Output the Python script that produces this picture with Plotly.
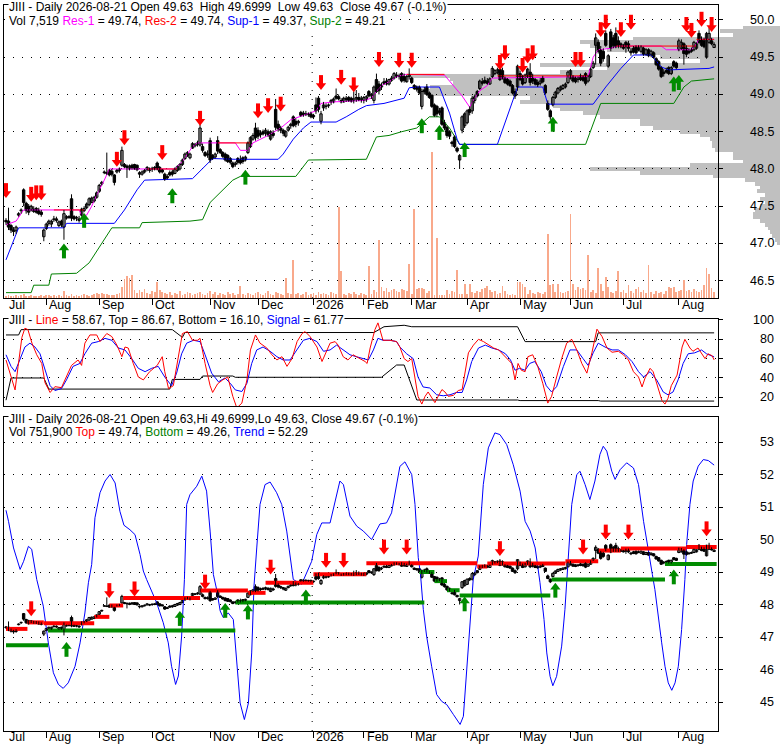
import pandas as pd
import plotly.graph_objects as go

W, H = 780, 745

# ---------------- data ----------------
holidays = ["2025-09-01", "2025-11-27", "2025-12-25", "2026-01-01", "2026-01-19",
            "2026-02-16", "2026-04-03", "2026-05-25", "2026-06-19", "2026-07-03"]
dates = pd.bdate_range("2025-07-10", "2026-08-21", freq="C", holidays=holidays)

opens = [
    47.31, 47.30, 47.24, 47.18, 47.17, 47.38, 47.44, 47.72, 47.54, 47.50,
    47.45, 47.46, 47.47, 47.44, 47.42, 47.09, 47.20, 47.27, 47.26, 47.32,
    47.33, 47.24, 47.30, 47.22, 47.34, 47.36, 47.60, 47.36, 47.34, 47.33,
    47.38, 47.44, 47.48, 47.52, 47.55, 47.57, 47.62, 47.70, 47.80, 47.96,
    47.95, 47.98, 47.97, 47.92, 47.96, 47.98, 48.05, 48.06, 48.04, 48.00,
    48.05, 48.06, 48.05, 47.95, 47.93, 47.96, 47.99, 47.98, 48.00, 48.02,
    48.08, 48.02, 47.99, 47.93, 47.90, 47.95, 47.96, 47.94, 47.98, 48.00,
    48.06, 48.14, 48.18, 48.15, 48.28, 48.31, 48.33, 48.32, 48.30, 48.22,
    48.20, 48.38, 48.18, 48.16, 48.38, 48.26, 48.22, 48.20, 48.18, 48.14,
    48.08, 48.06, 48.14, 48.12, 48.15, 48.12, 48.22, 48.30, 48.40, 48.55,
    48.52, 48.48, 48.50, 48.48, 48.50, 48.40, 48.48, 48.80, 48.60, 48.55,
    48.52, 48.44, 48.52, 48.58, 48.70, 48.64, 48.62, 48.76, 48.75, 48.74,
    48.73, 48.74, 48.72, 48.86, 48.95, 48.64, 48.82, 48.84, 48.85, 48.90,
    48.90, 48.98, 48.97, 48.92, 48.90, 48.95, 48.96, 48.95, 48.92, 48.94,
    48.96, 48.93, 48.92, 48.93, 49.04, 48.98, 48.92, 49.20, 49.14, 49.10,
    49.17, 49.18, 49.14, 49.19, 49.22, 49.26, 49.25, 49.28, 49.24, 49.17,
    49.24, 49.22, 49.12, 49.10, 49.10, 48.84, 49.06, 49.10, 49.02, 48.99,
    48.86, 48.84, 48.78, 48.82, 48.62, 48.56, 48.50, 48.36, 48.43, 48.28,
    48.12, 48.52, 48.58, 48.62, 48.80, 48.78, 48.92, 49.04, 49.08, 49.17,
    49.19, 49.18, 49.14, 49.24, 49.28, 49.29, 49.34, 49.32, 49.22, 49.20,
    49.18, 49.12, 49.04, 49.10, 49.28, 49.24, 49.16, 49.25, 49.30, 49.22,
    49.20, 49.16, 49.15, 49.22, 49.12, 48.88, 48.78, 48.86, 48.96, 49.02,
    49.06, 49.08, 49.10, 49.16, 49.22, 49.24, 49.22, 49.20, 49.25, 49.24,
    49.28, 49.18, 49.24, 49.36, 49.66, 49.70, 49.60, 49.58, 49.82, 49.38,
    49.84, 49.76, 49.82, 49.72, 49.68, 49.66, 49.70, 49.68, 49.58, 49.62,
    49.64, 49.62, 49.58, 49.62, 49.54, 49.60, 49.54, 49.56, 49.48, 49.44,
    49.36, 49.30, 49.32, 49.36, 49.28, 49.44, 49.42, 49.60, 49.62, 49.68,
    49.62, 49.58, 49.60, 49.60, 49.62, 49.82, 49.74, 49.72, 49.50, 49.70,
    49.72, 49.63]
highs = [
    47.34, 47.48, 47.26, 47.22, 47.24, 47.42, 47.47, 47.74, 47.56, 47.53,
    47.52, 47.50, 47.49, 47.48, 47.45, 47.20, 47.28, 47.32, 47.32, 47.37,
    47.36, 47.31, 47.32, 47.45, 47.38, 47.38, 47.66, 47.38, 47.37, 47.37,
    47.48, 47.50, 47.55, 47.62, 47.63, 47.64, 47.70, 47.80, 47.84, 47.98,
    48.22, 48.00, 48.00, 47.93, 48.00, 48.02, 48.30, 48.08, 48.06, 48.06,
    48.07, 48.07, 48.06, 47.97, 47.98, 48.00, 48.04, 48.02, 48.03, 48.04,
    48.10, 48.04, 48.00, 47.95, 47.93, 47.98, 47.99, 48.02, 48.05, 48.08,
    48.14, 48.22, 48.24, 48.22, 48.36, 48.35, 48.38, 48.60, 48.34, 48.24,
    48.25, 48.42, 48.20, 48.22, 48.44, 48.28, 48.24, 48.22, 48.20, 48.16,
    48.10, 48.10, 48.16, 48.18, 48.17, 48.18, 48.37, 48.44, 48.48, 48.62,
    48.56, 48.52, 48.53, 48.55, 48.53, 48.52, 48.52, 48.94, 48.65, 48.58,
    48.54, 48.52, 48.58, 48.62, 48.72, 48.68, 48.66, 48.78, 48.78, 48.78,
    48.76, 48.77, 48.74, 48.96, 48.98, 48.78, 48.90, 48.88, 48.88, 48.94,
    48.96, 49.08, 49.00, 48.95, 48.97, 48.98, 48.98, 48.97, 49.04, 49.06,
    49.02, 48.98, 48.98, 48.99, 49.06, 49.02, 49.12, 49.28, 49.18, 49.16,
    49.22, 49.22, 49.21, 49.25, 49.30, 49.30, 49.28, 49.30, 49.28, 49.26,
    49.35, 49.24, 49.14, 49.12, 49.12, 49.08, 49.10, 49.14, 49.04, 49.00,
    48.88, 48.86, 48.82, 48.84, 48.66, 48.58, 48.52, 48.38, 48.45, 48.30,
    48.20, 48.72, 48.76, 48.80, 48.84, 48.98, 49.00, 49.06, 49.20, 49.22,
    49.24, 49.22, 49.23, 49.38, 49.34, 49.36, 49.40, 49.36, 49.24, 49.22,
    49.20, 49.14, 49.08, 49.40, 49.32, 49.26, 49.28, 49.36, 49.42, 49.28,
    49.22, 49.20, 49.22, 49.25, 49.14, 48.92, 48.80, 48.98, 49.05, 49.10,
    49.12, 49.14, 49.16, 49.32, 49.34, 49.26, 49.24, 49.24, 49.28, 49.26,
    49.30, 49.26, 49.36, 49.45, 49.82, 49.74, 49.65, 49.62, 49.86, 49.54,
    49.88, 49.80, 49.90, 49.78, 49.70, 49.68, 49.72, 49.72, 49.62, 49.65,
    49.66, 49.66, 49.66, 49.64, 49.62, 49.62, 49.60, 49.58, 49.50, 49.46,
    49.38, 49.34, 49.36, 49.38, 49.38, 49.46, 49.44, 49.75, 49.74, 49.70,
    49.66, 49.62, 49.63, 49.72, 49.70, 49.86, 49.78, 49.76, 49.84, 49.90,
    49.76, 49.6999]
lows = [
    47.25, 47.18, 47.14, 47.10, 47.13, 47.36, 47.40, 47.50, 47.40, 47.38,
    47.43, 47.41, 47.40, 47.38, 47.36, 47.03, 47.18, 47.24, 47.22, 47.29,
    47.28, 47.22, 47.22, 47.05, 47.32, 47.33, 47.30, 47.31, 47.30, 47.28,
    47.36, 47.42, 47.46, 47.50, 47.54, 47.55, 47.60, 47.68, 47.78, 47.93,
    47.92, 47.90, 47.90, 47.78, 47.94, 47.95, 48.03, 48.01, 47.88, 47.98,
    47.99, 47.99, 47.97, 47.88, 47.91, 47.94, 47.97, 47.95, 47.96, 47.98,
    47.98, 47.94, 47.94, 47.84, 47.86, 47.90, 47.90, 47.93, 47.96, 47.98,
    48.04, 48.12, 48.16, 48.13, 48.27, 48.29, 48.30, 48.30, 48.22, 48.16,
    48.15, 48.08, 48.12, 48.14, 48.20, 48.20, 48.15, 48.10, 48.08, 48.06,
    48.01, 48.03, 48.06, 48.06, 48.07, 48.10, 48.20, 48.28, 48.38, 48.38,
    48.40, 48.42, 48.45, 48.44, 48.43, 48.38, 48.42, 48.52, 48.50, 48.48,
    48.44, 48.42, 48.50, 48.54, 48.56, 48.56, 48.58, 48.70, 48.70, 48.71,
    48.70, 48.68, 48.67, 48.74, 48.76, 48.60, 48.78, 48.80, 48.82, 48.86,
    48.88, 48.93, 48.92, 48.88, 48.89, 48.90, 48.90, 48.89, 48.88, 48.90,
    48.91, 48.89, 48.88, 48.90, 48.96, 48.94, 48.88, 49.02, 49.00, 49.06,
    49.13, 49.12, 49.12, 49.17, 49.20, 49.22, 49.20, 49.16, 49.16, 49.16,
    49.20, 49.14, 49.06, 49.04, 49.00, 48.80, 49.00, 48.98, 48.94, 48.82,
    48.70, 48.70, 48.72, 48.58, 48.52, 48.42, 48.40, 48.30, 48.28, 48.22,
    48.00, 48.48, 48.55, 48.60, 48.72, 48.74, 48.88, 48.96, 49.06, 49.12,
    49.14, 49.13, 49.13, 49.22, 49.26, 49.27, 49.18, 49.20, 49.14, 49.12,
    49.10, 49.00, 48.94, 49.05, 49.18, 49.12, 49.14, 49.22, 49.12, 49.14,
    49.12, 49.10, 49.12, 49.15, 49.00, 48.78, 48.66, 48.84, 48.94, 49.00,
    49.04, 49.06, 49.08, 49.14, 49.20, 49.16, 49.15, 49.16, 49.18, 49.17,
    49.12, 49.16, 49.22, 49.34, 49.40, 49.55, 49.38, 49.44, 49.64, 49.36,
    49.58, 49.62, 49.62, 49.62, 49.62, 49.60, 49.56, 49.58, 49.52, 49.55,
    49.54, 49.58, 49.56, 49.52, 49.52, 49.50, 49.50, 49.48, 49.38, 49.32,
    49.22, 49.24, 49.28, 49.26, 49.26, 49.36, 49.34, 49.58, 49.60, 49.40,
    49.50, 49.54, 49.56, 49.58, 49.60, 49.68, 49.64, 49.62, 49.48, 49.68,
    49.66, 49.63]
closes = [
    47.29, 47.22, 47.18, 47.16, 47.22, 47.40, 47.45, 47.55, 47.44, 47.42,
    47.50, 47.43, 47.42, 47.40, 47.39, 47.18, 47.26, 47.30, 47.30, 47.33,
    47.31, 47.29, 47.25, 47.40, 47.36, 47.35, 47.34, 47.33, 47.35, 47.31,
    47.46, 47.47, 47.53, 47.60, 47.61, 47.62, 47.68, 47.78, 47.82, 47.95,
    47.94, 47.92, 47.93, 47.82, 47.98, 48.00, 48.25, 48.03, 48.02, 48.04,
    48.02, 48.00, 47.99, 47.93, 47.96, 47.98, 48.02, 48.00, 48.01, 48.00,
    48.00, 47.96, 47.96, 47.86, 47.88, 47.92, 47.93, 48.00, 48.03, 48.06,
    48.12, 48.20, 48.22, 48.20, 48.34, 48.33, 48.35, 48.55, 48.25, 48.18,
    48.19, 48.12, 48.14, 48.20, 48.24, 48.22, 48.17, 48.12, 48.10, 48.09,
    48.03, 48.08, 48.09, 48.08, 48.10, 48.16, 48.35, 48.42, 48.45, 48.42,
    48.44, 48.46, 48.47, 48.52, 48.46, 48.50, 48.45, 48.56, 48.54, 48.52,
    48.48, 48.50, 48.56, 48.60, 48.58, 48.60, 48.64, 48.72, 48.73, 48.73,
    48.74, 48.70, 48.70, 48.78, 48.80, 48.74, 48.86, 48.84, 48.86, 48.92,
    48.94, 48.95, 48.94, 48.90, 48.95, 48.93, 48.92, 48.91, 48.94, 48.96,
    48.93, 48.95, 48.96, 48.97, 48.98, 49.00, 49.10, 49.04, 49.05, 49.12,
    49.15, 49.14, 49.20, 49.22, 49.28, 49.25, 49.24, 49.18, 49.19, 49.24,
    49.26, 49.16, 49.08, 49.07, 49.02, 49.04, 49.04, 49.00, 48.96, 48.84,
    48.72, 48.74, 48.76, 48.60, 48.55, 48.45, 48.44, 48.34, 48.30, 48.24,
    48.18, 48.70, 48.74, 48.78, 48.76, 48.95, 48.97, 48.98, 49.18, 49.15,
    49.16, 49.15, 49.21, 49.35, 49.32, 49.33, 49.20, 49.22, 49.16, 49.14,
    49.12, 49.02, 48.98, 49.38, 49.20, 49.14, 49.26, 49.34, 49.16, 49.18,
    49.14, 49.13, 49.18, 49.17, 49.02, 48.80, 48.70, 48.96, 49.03, 49.08,
    49.10, 49.12, 49.14, 49.30, 49.32, 49.18, 49.17, 49.22, 49.20, 49.19,
    49.15, 49.24, 49.34, 49.42, 49.76, 49.58, 49.42, 49.48, 49.66, 49.52,
    49.62, 49.66, 49.64, 49.66, 49.64, 49.62, 49.64, 49.62, 49.56, 49.57,
    49.56, 49.60, 49.64, 49.54, 49.60, 49.52, 49.58, 49.50, 49.40, 49.34,
    49.24, 49.28, 49.30, 49.28, 49.36, 49.38, 49.36, 49.72, 49.70, 49.55,
    49.54, 49.56, 49.58, 49.70, 49.68, 49.70, 49.66, 49.64, 49.82, 49.82,
    49.68, 49.67]
volumes = [  # thousands of shares
    250, 375, 250, 250, 375, 250, 375, 500, 250, 250, 375, 250, 250, 250, 375, 250,
    375, 375, 250, 375, 250, 375, 250,
    875,
    375, 250, 500, 250, 375, 250, 375, 500, 375, 250, 375, 500,
    625, 500, 625, 500, 500, 375,
    375, 375, 500, 625,
    1375, 2375, 2750, 2500, 2875, 1000,
    625, 1000, 750, 1125, 625, 500, 875, 750,
    2000,
    1000, 750,
    625, 500, 750, 375, 625, 500, 875, 375, 500, 750, 625, 375, 500, 625, 750,
    500, 375, 625, 875, 500, 750, 375, 625, 500, 375, 750, 500, 625, 375, 500,
    1500,
    500, 375, 625, 500, 375, 625, 750, 500, 375, 625, 875, 500, 375, 750, 625, 500, 375,
    2500,
    625, 500,
    4750,
    500, 625, 375, 500, 750, 375, 500, 625, 375, 750, 500, 625, 500, 375, 750, 625, 500,
    11375, 3375,
    500, 375, 625, 500, 750, 500, 375, 625, 500, 375,
    4000,
    500, 1000, 750,
    7250, 1375,
    875, 1250, 750, 1000, 1125, 875, 750, 1125, 1000, 875,
    4250, 500, 11125,
    1125, 1250, 1250, 1125,
    625, 875,
    18250, 375, 7500,
    375, 375, 375,
    1000, 500,
    875, 750,
    3500,
    500, 500,
    1750, 500, 1750,
    750, 625, 875,
    750, 1125,
    1250,
    1500, 1000,
    750, 875,
    500, 625,
    1500, 875,
    500, 375, 500, 375,
    2000, 2000,
    1750, 1375, 500, 1000,
    625, 500, 750, 625, 500,
    750, 8000,
    1625, 1750, 750, 1750,
    750, 625, 750, 875,
    10500, 1750,
    1000, 1375, 1125, 1250,
    1000, 5375,
    750, 1000, 625,
    3750, 1750, 875, 2625,
    1375, 750, 625, 875,
    3375,
    750, 1000, 625,
    1625,
    875, 625, 1125, 1375, 750, 1000, 625,
    4125,
    750, 500, 875, 625, 750, 500, 875,
    1375, 1250, 1375,
    750, 875, 1000,
    2250,
    875, 1000, 750, 1125, 875, 750, 1000,
    1625, 3750, 3000, 1250, 752]

# resistance / support lines (bar index, price)
res1_idx = [0, 4, 7, 29, 30, 32, 34, 36, 39, 41, 67, 70, 74, 76, 91, 93, 96, 98, 104, 109,
            113, 118, 123, 125, 130, 142, 145, 147, 149, 152, 155, 159, 174, 176, 178, 181,
            184, 185, 188, 191, 193, 231, 233, 235, 240, 243, 260, 262, 272, 274, 275, 281]
res1_val = [47.25, 47.30, 47.45, 47.45, 47.38, 47.38, 47.50, 47.65, 47.85, 48.00, 48.00, 48.10,
            48.30, 48.35, 48.35, 48.25, 48.25, 48.35, 48.45, 48.55, 48.66, 48.72, 48.78, 48.88,
            48.90, 48.92, 48.95, 49.04, 49.12, 49.17, 49.24, 49.27, 49.26, 49.18, 49.10, 48.98,
            48.83, 48.90, 49.05, 49.12, 49.22, 49.24, 49.50, 49.60, 49.62, 49.65, 49.65, 49.60,
            49.60, 49.68, 49.74, 49.74]
res2_start = [19, 56, 84, 159, 195, 242, 274]
res2_end = [31, 68, 97, 174, 231, 274, 281]
res2_val = [47.45, 48.00, 48.35, 49.27, 49.25, 49.65, 49.74]
sup1_idx = [0, 5, 23, 24, 43, 47, 52, 55, 74, 78, 82, 91, 108, 110, 114, 118, 121, 131, 135, 140,
            143, 150, 158, 160, 163, 172, 176, 179, 180, 195, 203, 213, 215, 233, 238, 244, 249,
            256, 260, 263, 279, 281]
sup1_val = [46.78, 47.21, 47.21, 47.27, 47.27, 47.45, 47.72, 47.85, 47.87, 48.00, 48.14, 48.13,
            48.13, 48.20, 48.40, 48.55, 48.63, 48.63, 48.70, 48.80, 48.85, 48.88, 48.95, 49.09,
            49.10, 49.10, 48.75, 48.40, 48.33, 48.33, 49.10, 49.10, 48.87, 48.87, 49.10, 49.35,
            49.53, 49.53, 49.37, 49.33, 49.35, 49.37]
sup2_idx = [0, 10, 11, 17, 18, 28, 33, 37, 42, 53, 54, 73, 78, 81, 90, 93, 115, 120, 143, 147,
            152, 157, 163, 168, 172, 176, 180, 230, 236, 265, 269, 272, 281]
sup2_val = [46.34, 46.34, 46.44, 46.44, 46.59, 46.60, 46.74, 46.95, 47.21, 47.21, 47.28, 47.30,
            47.32, 47.55, 47.85, 47.90, 47.90, 48.12, 48.13, 48.43, 48.45, 48.50, 48.55, 48.70,
            48.70, 48.55, 48.33, 48.33, 48.88, 48.88, 49.10, 49.18, 49.21]

# signal arrows (bar index, price at arrow tip)
sell_idx = [0, 10, 12, 14, 44, 47, 62, 77, 100, 104, 109, 125, 133, 138, 148, 156, 161, 196, 198,
            205, 207, 209, 226, 228, 236, 238, 244, 248, 270, 272, 276, 280]
sell_tip = [47.61, 47.56, 47.58, 47.58, 48.03, 48.32, 48.12, 48.58, 48.68, 48.75, 48.77, 49.06,
            49.13, 49.03, 49.37, 49.36, 49.36, 49.33, 49.46, 49.29, 49.42, 49.46, 49.37, 49.37,
            49.77, 49.87, 49.77, 49.87, 49.84, 49.76, 49.91, 49.84]
buy_idx = [23, 31, 66, 95, 165, 172, 182, 217, 265, 267]
buy_tip = [47.00, 47.41, 47.74, 47.99, 48.68, 48.59, 48.36, 48.70, 49.24, 49.26]

# volume at price profile (price level, relative volume)
vap_price = [49.90, 49.85, 49.80, 49.75, 49.70, 49.65, 49.60, 49.55, 49.50, 49.45, 49.40, 49.35,
             49.30, 49.25, 49.20, 49.15, 49.10, 49.05, 49.00, 48.95, 48.90, 48.85, 48.80, 48.75,
             48.70, 48.65, 48.60, 48.55, 48.50, 48.45, 48.40, 48.35, 48.30, 48.25, 48.20, 48.15,
             48.10, 48.05, 48.00, 47.95, 47.90, 47.85, 47.80, 47.75, 47.70, 47.65, 47.60, 47.55,
             47.50, 47.45, 47.40, 47.35, 47.30, 47.25, 47.20, 47.15, 47.10, 47.05, 47.00]
vap_vol = [37, 60, 47, 147, 200, 190, 173, 140, 120, 80, 240, 173, 220, 370, 330, 327, 350, 358,
           353, 250, 260, 227, 220, 197, 180, 140, 140, 127, 100, 80, 70, 68, 68, 65, 47, 47, 37,
           90, 190, 140, 67, 35, 25, 20, 23, 15, 20, 15, 20, 25, 27, 27, 20, 15, 12, 10, 8, 5, 3]

# oscillator panel
line_x = [0, 1, 2.4, 3.6, 4.8, 6.3, 7.5, 8.7, 10.3, 12.2, 14.2, 15.5, 17.5, 19.4, 22, 24, 26, 28.6,
          30, 31.3, 33.3, 36, 37.3, 40, 42, 44, 46, 47.2, 48.5, 50.5, 52.5, 54.5, 57, 60, 62, 63,
          64.5, 66.4, 68, 70, 72, 74, 76, 77, 79, 81, 82, 84, 86, 88, 90, 91.6, 93.6, 95.6, 97,
          99, 100.8, 103.5, 105.5, 107.5, 109.5, 111.5, 113.5, 115.5, 117.5, 118.7, 120.6, 123.4,
          125.4, 126.6, 128.6, 130.6, 131.8, 133.8, 135.7, 137.7, 140.5, 142.5, 143.3, 144.5,
          146.4, 147.6, 149.6, 152.4, 155, 156.3, 158, 159.5, 161, 162.3, 163.5, 165, 166.3,
          167.5, 169, 170.2, 171.5, 173, 174.2, 175.5, 177.5, 179.5, 181, 182.2, 183.5, 185.5,
          187.5, 189.5, 191.5, 193.5, 195.5, 197.5, 199.5, 200.7, 202, 203.2, 204.5, 206, 207.1,
          209, 211, 213, 215, 216.5, 218.5, 220.5, 222.5, 224.5, 226.5, 228.5, 230.5, 232.5,
          234.5, 236.5, 238.5, 240.5, 243, 245, 247, 249, 251, 252.4, 253.6, 255.6, 256.8,
          258.7, 260.3, 261.5, 262.7, 264, 266.3, 268.3, 269.4, 271.4, 272.6, 274.6, 276, 277.4,
          278.6, 280.2, 281]
line_v = [58.6, 50, 38, 27.6, 52, 82, 91.5, 90, 76, 64, 55, 35, 25, 31, 30, 41, 53, 58.6, 53, 76,
          84.5, 84.5, 77.6, 86, 82.8, 74, 62, 72, 71, 55, 41, 38, 46.5, 53, 62, 46.5, 29, 32, 55,
          86, 88, 79, 79, 81, 55, 32, 25, 34, 38, 41, 21, 9, 14, 38, 69, 84.5, 76, 71, 64, 58.6,
          62, 52, 60, 77.6, 86, 88, 83, 72, 57, 64.8, 76, 77.6, 74, 62, 58.6, 64, 60, 57, 55, 71,
          90, 97, 79, 79, 77.6, 72, 60, 57, 60, 41, 21, 13, 21, 25.5, 19, 14.5, 21, 28, 25.5, 21,
          22, 27, 28, 45, 66, 74, 80, 77.6, 74, 71, 69, 64, 58.6, 55, 38, 55, 48, 46.5, 62, 64,
          52, 34.5, 14, 21, 41, 60, 76, 80, 69, 55, 45, 66, 90.5, 83, 71, 66.6, 67.6, 64, 58.6,
          46.5, 41, 30.7, 40, 50, 46.5, 30.7, 16.5, 13, 19, 32, 43, 72, 80, 71, 67.6, 71, 66, 60,
          65, 63, 58.67]
signal_x = [0, 2, 3.6, 5.6, 7.5, 9.5, 11.5, 13.5, 15.5, 17.5, 19.4, 22, 24, 26.6, 29.3, 31.3, 34,
            36.6, 39.3, 42, 44.6, 47.2, 49.9, 52.5, 55.2, 57.8, 60.4, 63, 65.7, 67.7, 69.7, 71.7,
            74.4, 77, 79, 81.6, 84.3, 86.9, 89, 91, 93.6, 95.6, 97.5, 99.5, 102, 104.8, 107.5,
            110, 112.7, 115.5, 118, 120.6, 123.4, 126, 128.6, 131.2, 133.8, 136.5, 139, 141.8,
            143.8, 145.8, 147.6, 149.6, 152.4, 155, 156.3, 159, 161.6, 163.5, 165.5, 168.2, 170.9,
            173.5, 176.2, 178.8, 181, 182.8, 184.8, 187.5, 190.2, 192.8, 195.5, 198.2, 200.2, 202,
            203.8, 206, 207.8, 209.8, 212.4, 214.4, 216.5, 218.5, 221.2, 223.8, 226.5, 229, 231,
            233, 235, 237.7, 240.5, 243, 245.8, 248.4, 251, 253, 255.6, 258.2, 260.8, 262.7,
            264.7, 266.7, 268.7, 270.7, 273.3, 276, 278, 281]
signal_v = [64, 52, 46.5, 60, 72, 76, 72, 65, 48, 32, 27, 29, 38, 52, 55, 65, 76, 77.6, 81, 79, 71,
            69, 60, 50, 46.5, 50, 52, 41, 32, 45, 65, 76, 79, 77.6, 64, 45, 36, 40, 34.5, 27.6, 26,
            34.5, 55, 69, 72, 67.6, 62, 58.6, 58.6, 69, 79, 81, 77.6, 67.6, 69, 74, 69, 64, 62, 60,
            58.6, 69, 81, 79, 79, 77.6, 72, 65, 60, 41, 30.7, 29.6, 22.6, 21.6, 22.6, 25, 25, 38,
            57, 71, 74, 71, 69, 65, 58.6, 48, 50, 48, 55, 57, 46.5, 32, 25.5, 31, 52, 69, 69, 60,
            53, 66, 76, 72, 69, 69, 64, 57, 46.5, 41, 46.5, 38, 25.5, 22.6, 25.5, 38, 55, 65, 66,
            69, 65, 61.77]
band_top_x = [0, 5, 6, 66, 70, 71, 146, 150, 158, 161, 203, 206, 234, 235, 281]
band_top_v = [84.5, 84.5, 90, 90, 82, 87, 87, 93, 94.5, 93, 93, 77.6, 77.6, 86.67, 86.67]
band_bot_x = [0, 2, 15, 17, 65, 66, 77, 78, 90, 91, 149, 155, 158, 163, 203, 204, 235, 236, 281]
band_bot_v = [17, 40, 40, 28.5, 28.5, 38.5, 38.5, 42, 42, 40.7, 40.7, 53.4, 53.4, 17.2, 17.2,
              16.6, 16.6, 16.1, 16.1]

# trend panel
trend_x = [0, 1, 3, 5.6, 7, 8.9, 10.2, 11.5, 12.2, 14.8, 16.8, 18.8, 20.8, 22.7, 24.7, 27.4, 29.4,
           31.3, 32.7, 34, 35.3, 37.3, 39.3, 41.3, 43.3, 45.2, 46.8, 49.2, 51.2, 53.2, 54.5, 55.8,
           59.8, 62.4, 64.4, 65.7, 67.3, 68.4, 69.7, 70.8, 71.7, 73, 75.7, 77.7, 79.6, 81, 82.3,
           83.6, 85, 86.2, 88.2, 90.2, 91.5, 92.9, 94.6, 96.2, 97.5, 98.4, 99.5, 100.8, 102.8,
           104.8, 107.4, 109.4, 111.4, 113.4, 114, 117.3, 121.3, 123.3, 125.3, 128.6, 129.9,
           132.5, 133.9, 136.5, 139.2, 141.8, 145.1, 148.4, 151, 153, 156.3, 158.3, 161, 162.3,
           163.6, 164.5, 165.6, 166.9, 168.9, 170.9, 172.9, 174.9, 177.5, 180.2, 181.5, 182.8,
           184.1, 185.4, 187.4, 189.4, 191.4, 194, 196, 198.7, 201.3, 204, 206, 208, 210, 211.2,
           211.9, 213.5, 214.6, 215.9, 217, 218.5, 220.5, 221.8, 222.5, 223.1, 224.5, 226.5,
           227.8, 229.8, 231.7, 233.7, 235.7, 237, 238.4, 240.4, 241.7, 243.7, 246.3, 249, 251,
           253, 255, 256.5, 257.5, 258.9, 260.2, 261.5, 262.8, 264.2, 265.5, 266.8, 268.1, 269.4,
           270.1, 271.4, 272.7, 274.7, 276.7, 278.7, 281]
trend_v = [50.90, 50.56, 49.74, 49.08, 49.33, 49.79, 49.70, 49.03, 48.77, 47.95, 46.82, 45.90,
           45.54, 45.42, 45.59, 46.10, 46.82, 47.74, 48.67, 49.23, 50.67, 51.44, 51.80, 52.00,
           51.74, 50.87, 50.44, 50.30, 50.15, 49.54, 49.03, 48.77, 48.05, 47.44, 46.82, 46.10,
           45.54, 45.80, 47.03, 48.77, 51.08, 51.38, 51.64, 51.95, 51.49, 50.26, 48.92, 48.46,
           47.80, 47.60, 47.74, 47.54, 46.20, 44.97, 44.46, 44.97, 46.51, 48.56, 49.74, 51.08,
           51.69, 51.77, 51.44, 51.08, 50.26, 49.03, 48.77, 48.62, 49.33, 50.15, 50.51, 50.51,
           50.97, 51.80, 51.69, 50.72, 50.41, 50.26, 50.00, 50.48, 50.51, 50.82, 52.25, 52.39,
           52.00, 51.08, 49.44, 48.92, 47.85, 47.03, 46.10, 45.23, 45.02, 44.92, 44.62, 44.31,
           44.56, 46.00, 47.44, 48.77, 49.49, 51.69, 52.82, 53.28, 53.23, 52.92, 52.30, 51.49,
           50.56, 50.26, 49.74, 49.03, 48.67, 47.54, 46.51, 45.79, 45.50, 45.79, 46.72, 47.85,
           48.77, 49.54, 51.08, 52.00, 52.10, 51.69, 51.23, 51.80, 52.62, 52.87, 52.72, 52.10,
           51.85, 52.15, 52.36, 52.20, 51.69, 50.56, 49.54, 48.92, 48.46, 47.54, 46.82, 46.10,
           45.59, 45.36, 45.59, 46.10, 47.23, 48.77, 49.85, 51.08, 51.80, 52.26, 52.46, 52.43,
           52.29]
tops_start = [0, 8.5, 15, 35, 41, 46.5, 77, 96, 103, 122, 143, 187, 191, 222, 235, 244, 270]
tops_end = [8.5, 15, 35, 41, 46.5, 77, 96, 103, 122, 143, 187, 191, 222, 235, 244, 270, 282]
tops_val = [47.25, 47.45, 47.42, 47.62, 47.97, 48.20, 48.43, 48.36, 48.67, 48.93, 49.27, 49.17,
            49.26, 49.33, 49.66, 49.72, 49.77]
bots_start = [0, 16.7, 91, 164, 170, 175, 180, 216.5, 261.5]
bots_end = [16.7, 91, 166, 170, 175, 180, 216, 261.5, 282]
bots_val = [46.75, 47.20, 48.06, 49.00, 48.72, 48.44, 48.28, 48.77, 49.25]
sell2_idx = [10, 41, 51, 79, 105, 127, 134, 150, 159, 196, 229, 238, 247, 278]
sell2_tip = [47.64, 48.20, 48.25, 48.46, 48.92, 49.13, 49.13, 49.54, 49.54, 49.49, 49.54, 50.00,
             50.00, 50.10]
buy2_idx = [24, 69, 87, 96, 119, 182, 218, 265]
buy2_tip = [46.85, 47.80, 48.05, 48.00, 48.46, 48.25, 48.67, 49.08]

# ---------------- layout geometry (pixels) ----------------
FONT = "Liberation Sans, Arial, sans-serif"
TXT = "#000000"
PLOT_L, PLOT_R = 4, 718
BAR0_PX, BAR_PX = 6.0, 2.52
TOP_PX, MID_PX, BOT_PX = (5, 298), (319, 406), (417, 731)
TOP_RANGE, MID_RANGE, BOT_RANGE = (46.268, 50.201), (11.0, 101.0), (44.108, 53.77)

n = min(len(dates), len(opens), len(highs), len(lows), len(closes), len(volumes))
idx = list(range(n))


def ydom(p):
    return [1 - p[1] / H, 1 - p[0] / H]


XDOM = [PLOT_L / W, PLOT_R / W]
XRANGE = [(PLOT_L - BAR0_PX) / BAR_PX, (PLOT_R - BAR0_PX) / BAR_PX]

fig = go.Figure()

# volume-at-price profile (first subplot -> drawn beneath everything)
fig.add_trace(go.Bar(x=vap_vol, y=vap_price, orientation="h", width=0.05,
                     marker=dict(color="#C0C0C0", line=dict(width=0)),
                     xaxis="x", yaxis="y", hoverinfo="skip", showlegend=False))


def line(xs, ys, color, xa, ya, width=1):
    return go.Scatter(x=xs, y=ys, mode="lines", line=dict(color=color, width=width),
                      xaxis=xa, yaxis=ya, hoverinfo="skip", showlegend=False)


def segments(starts, ends, vals, color, xa, ya, width):
    xs, ys = [], []
    for s, e, v in zip(starts, ends, vals):
        xs += [s, e, None]
        ys += [v, v, None]
    return line(xs, ys, color, xa, ya, width)


def candles(xa, ya, ppu):
    wx, wy = [], []
    for i in idx:
        wx += [i, i, None]
        wy += [lows[i], highs[i], None]
    fig.add_trace(line(wx, wy, "#000000", xa, ya, 1))
    base = [min(opens[i], closes[i]) for i in idx]
    hgt = [max(abs(closes[i] - opens[i]), 0.4 / ppu) for i in idx]
    fill = ["#FFFFFF" if closes[i] >= opens[i] else "#000000" for i in idx]
    fig.add_trace(go.Bar(x=idx, y=hgt, base=base, width=0.95,
                         marker=dict(color=fill, line=dict(color="#000000", width=1)),
                         xaxis=xa, yaxis=ya, hoverinfo="skip", showlegend=False))


def arrows(xs, tips, down, color, xa, ya, ppu):
    s = 1 if down else -1
    head = [t + s * 4.5 / ppu for t in tips]
    shaft = [t + s * 10.0 / ppu for t in tips]
    fig.add_trace(go.Scatter(x=xs, y=shaft, mode="markers", xaxis=xa, yaxis=ya,
                             marker=dict(symbol="line-ns", size=7,
                                         line=dict(color=color, width=4)),
                             hoverinfo="skip", showlegend=False))
    fig.add_trace(go.Scatter(x=xs, y=head, mode="markers", xaxis=xa, yaxis=ya,
                             marker=dict(symbol="triangle-down" if down else "triangle-up",
                                         size=9, color=color, line=dict(width=0)),
                             hoverinfo="skip", showlegend=False))


top_ppu = (TOP_PX[1] - TOP_PX[0]) / (TOP_RANGE[1] - TOP_RANGE[0])
bot_ppu = (BOT_PX[1] - BOT_PX[0]) / (BOT_RANGE[1] - BOT_RANGE[0])

# ---- top panel ----
fig.add_trace(go.Bar(x=idx, y=volumes[:n], width=0.7, marker=dict(color="#F9A98B", line=dict(width=0)),
                     xaxis="x2", yaxis="y3", hoverinfo="skip", showlegend=False))
fig.add_trace(line(sup2_idx, sup2_val, "#008000", "x2", "y2"))
fig.add_trace(line(sup1_idx, sup1_val, "#0000FF", "x2", "y2"))
fig.add_trace(line(res1_idx, res1_val, "#FF00FF", "x2", "y2"))
fig.add_trace(segments(res2_start, res2_end, res2_val, "#FF0000", "x2", "y2", 1))
candles("x2", "y2", top_ppu)
arrows(sell_idx, sell_tip, True, "#FF0000", "x2", "y2", top_ppu)
arrows(buy_idx, buy_tip, False, "#008C00", "x2", "y2", top_ppu)

# ---- middle panel ----
fig.add_trace(line(band_top_x, band_top_v, "#000000", "x3", "y4"))
fig.add_trace(line(band_bot_x, band_bot_v, "#000000", "x3", "y4"))
fig.add_trace(line(signal_x, signal_v, "#0000FF", "x3", "y4"))
fig.add_trace(line(line_x, line_v, "#FF0000", "x3", "y4"))

# ---- bottom panel ----
fig.add_trace(line(trend_x, trend_v, "#0000FF", "x4", "y5"))
fig.add_trace(segments(bots_start, bots_end, bots_val, "#008C00", "x4", "y5", 4))
fig.add_trace(segments(tops_start, tops_end, tops_val, "#FF0000", "x4", "y5", 4))
candles("x4", "y5", bot_ppu)
arrows(sell2_idx, sell2_tip, True, "#FF0000", "x4", "y5", bot_ppu)
arrows(buy2_idx, buy2_tip, False, "#008C00", "x4", "y5", bot_ppu)

# month ticks
month_idx, month_lab = [], []
for k in range(1, n):
    if dates[k].month != dates[k - 1].month:
        month_idx.append(k)
        month_lab.append("2026" if dates[k].month == 1 else dates[k].strftime("%b"))

grid = dict(showgrid=True, gridcolor="#000000", gridwidth=1, griddash="1px,8px")
axis_common = dict(showline=True, linecolor="#000000", linewidth=1, mirror=True, zeroline=False)

top_ticks = [46.5, 47.0, 47.5, 48.0, 48.5, 49.0, 49.5, 50.0]
mid_ticks = [20, 40, 60, 80, 100]
bot_ticks = [45, 46, 47, 48, 49, 50, 51, 52, 53]

fig.update_layout(
    width=W, height=H, autosize=False,
    margin=dict(l=0, r=0, t=0, b=0),
    paper_bgcolor="#FFFFFF", plot_bgcolor="rgba(0,0,0,0)",
    barmode="overlay", bargap=0, showlegend=False,
    font=dict(family=FONT, size=12, color=TXT),
    xaxis=dict(domain=[PLOT_L / W, 1.0], range=[W - PLOT_L, 0], visible=False, anchor="y"),
    yaxis=dict(domain=ydom(TOP_PX), range=list(TOP_RANGE), visible=False, anchor="x"),
    xaxis2=dict(domain=XDOM, range=XRANGE, anchor="y2", ticks="outside", ticklen=6,
                tickcolor="#000000", tickvals=month_idx, showticklabels=False, showgrid=False,
                **axis_common),
    yaxis2=dict(domain=ydom(TOP_PX), range=list(TOP_RANGE), anchor="x2", side="right",
                ticks="outside", ticklen=4, tickcolor="#000000", tickvals=top_ticks,
                showticklabels=False, **grid, **axis_common),
    yaxis3=dict(overlaying="y2", anchor="x2", range=[0, 36600], visible=False),
    xaxis3=dict(domain=XDOM, range=XRANGE, anchor="y4", ticks="", showticklabels=False,
                showgrid=False, **axis_common),
    yaxis4=dict(domain=ydom(MID_PX), range=list(MID_RANGE), anchor="x3", side="right",
                ticks="outside", ticklen=4, tickcolor="#000000", tickvals=mid_ticks,
                showticklabels=False, **grid, **axis_common),
    xaxis4=dict(domain=XDOM, range=XRANGE, anchor="y5", ticks="outside", ticklen=6,
                tickcolor="#000000", tickvals=month_idx, showticklabels=False, showgrid=False,
                **axis_common),
    yaxis5=dict(domain=ydom(BOT_PX), range=list(BOT_RANGE), anchor="x4", side="right",
                ticks="outside", ticklen=4, tickcolor="#000000", tickvals=bot_ticks,
                showticklabels=False, **grid, **axis_common),
)

# 2026 separator (dotted vertical)
year_idx = [k for k in month_idx if dates[k].month == 1][0] - 0.5
fig.add_shape(type="line", xref="x2", yref="y2 domain", x0=year_idx, x1=year_idx, y0=0,
              y1=(TOP_PX[1] - 28) / (TOP_PX[1] - TOP_PX[0]),
              line=dict(color="#000000", width=1, dash="1px,8px"), layer="below")
fig.add_shape(type="line", xref="x4", yref="y5 domain", x0=year_idx, x1=year_idx, y0=0,
              y1=(BOT_PX[1] - 440) / (BOT_PX[1] - BOT_PX[0]),
              line=dict(color="#000000", width=1, dash="1px,8px"), layer="below")

ann = []


def txt(x_px, y_px, text, anchor="left", bg=None, size=12):
    d = dict(xref="paper", yref="paper", x=x_px / W, y=1 - y_px / H, text=text,
             showarrow=False, xanchor=anchor, yanchor="middle",
             font=dict(family=FONT, size=size, color=TXT), borderpad=0)
    if bg:
        d["bgcolor"] = bg
    ann.append(d)


NB = "\u00a0"
txt(8, 7, "JIII - Daily 2026-08-21 Open 49.63" + NB + " High 49.6999" + NB + " Low 49.63" + NB +
    " Close 49.67 (-0.1%)", bg="#FFFFFF")
txt(8, 21, "Vol 7,519 <span style='color:#FF00FF'>Res-1</span> = 49.74, "
    "<span style='color:#FF0000'>Res-2</span> = 49.74, "
    "<span style='color:#0000FF'>Sup-1</span> = 49.37, "
    "<span style='color:#008000'>Sup-2</span> = 49.21", bg="#FFFFFF")
txt(8, 320.5, "JIII - <span style='color:#FF0000'>Line</span> = 58.67, Top = 86.67, "
    "Bottom = 16.10, <span style='color:#0000FF'>Signal</span> = 61.77", bg="#FFFFFF")
txt(8, 418.5, "JIII - Daily 2026-08-21 Open 49.63,Hi 49.6999,Lo 49.63, Close 49.67 (-0.1%)",
    bg="#FFFFFF")
txt(8, 432, "Vol 751,900 <span style='color:#FF0000'>Top</span> = 49.74, "
    "<span style='color:#008000'>Bottom</span> = 49.26, "
    "<span style='color:#0000FF'>Trend</span> = 52.29", bg="#FFFFFF")

# right-hand tick labels
for v in top_ticks:
    ann.append(dict(xref="paper", yref="y2", x=776 / W, y=v, text=f"{v:.1f}", showarrow=False,
                    xanchor="right", yanchor="middle", font=dict(family=FONT, size=12.5, color=TXT)))
for v in mid_ticks:
    ann.append(dict(xref="paper", yref="y4", x=776 / W, y=v, text=str(v), showarrow=False,
                    xanchor="right", yanchor="middle", font=dict(family=FONT, size=12.5, color=TXT)))
for v in bot_ticks:
    ann.append(dict(xref="paper", yref="y5", x=776 / W, y=v, text=str(v), showarrow=False,
                    xanchor="right", yanchor="middle", font=dict(family=FONT, size=12.5, color=TXT)))

# month labels (under top and bottom panels)
labels_idx = [0] + month_idx
labels_txt = [dates[0].strftime("%b")] + month_lab
for k, lab in zip(labels_idx, labels_txt):
    for xa, ypx in (("x2", 305), ("x4", 737)):
        ann.append(dict(xref=xa, yref="paper", x=k, y=1 - ypx / H, text=lab, showarrow=False,
                        xanchor="left", yanchor="middle", xshift=1,
                        font=dict(family=FONT, size=12.5, color=TXT)))

fig.update_layout(annotations=ann)
fig.write_html("out.html", config={"displayModeBar": False, "staticPlot": True},
               post_script="document.body.style.margin='0';document.body.style.padding='0';")
